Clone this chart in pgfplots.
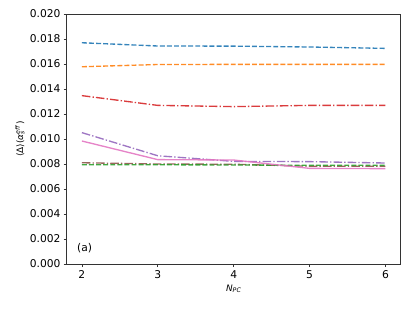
\documentclass[border=0pt]{standalone}
\usepackage{fontspec}
\setmainfont{DejaVu Sans}
\usepackage{pgfplots}
\pgfplotsset{compat=1.18}
\definecolor{mblue}{HTML}{1F77B4}
\definecolor{morange}{HTML}{FF7F0E}
\definecolor{mgreen}{HTML}{2CA02C}
\definecolor{mred}{HTML}{D62728}
\definecolor{mpurple}{HTML}{9467BD}
\definecolor{mbrown}{HTML}{8C564B}
\definecolor{mpink}{HTML}{E377C2}
\begin{document}
\begin{tikzpicture}
\useasboundingbox (-74.8pt,-49.6pt) rectangle (386pt,296pt);
\begin{axis}[
  at={(0,0)}, anchor=south west,
  scale only axis, width=374.4pt, height=280.3pt,
  xmin=1.8, xmax=6.2, ymin=0, ymax=0.020,
  xtick={2,3,4,5,6},
  ytick={0,0.002,0.004,0.006,0.008,0.010,0.012,0.014,0.016,0.018,0.020},
  yticklabel style={/pgf/number format/.cd, fixed, fixed zerofill, precision=3, assume math mode=true},
  xticklabel style={/pgf/number format/assume math mode=true},
  scaled y ticks=false,
  tick align=outside, tick pos=left,
  major tick length=3.5pt,
  every tick/.style={black!80, line width=0.8pt},
  axis line style={black!80, line width=0.8pt},
  tick label style={font=\fontsize{12}{14}\selectfont},
  label style={font=\fontsize{10}{12}\selectfont},
  xlabel={\textit{N}\textsubscript{\textit{PC}}},
  ylabel={⟨Δ⟩(\textit{α}\rlap{\textsubscript{\textit{s}}}\textsuperscript{\textit{eff}})},
  ylabel style={yshift=-1pt},
  every axis plot/.append style={line width=1.5pt, opacity=0.9},
]
\addplot[mblue, dash pattern=on 5.55pt off 2.4pt] coordinates {(2,0.01770) (3,0.01744) (4,0.01743) (5,0.01736) (6,0.01725)};
\addplot[morange, dash pattern=on 5.55pt off 2.4pt] coordinates {(2,0.01578) (3,0.01596) (4,0.01597) (5,0.01597) (6,0.01597)};
\addplot[mred, dash pattern=on 9.6pt off 2.4pt on 1.5pt off 2.4pt] coordinates {(2,0.01347) (3,0.01269) (4,0.01259) (5,0.01269) (6,0.01269)};
\addplot[mbrown, dash pattern=on 9.6pt off 2.4pt on 1.5pt off 2.4pt] coordinates {(2,0.00810) (3,0.00800) (4,0.00798) (5,0.00782) (6,0.00782)};
\addplot[mgreen, dash pattern=on 5.55pt off 2.4pt] coordinates {(2,0.00794) (3,0.00794) (4,0.00792) (5,0.00790) (6,0.00790)};
\addplot[mpurple, dash pattern=on 9.6pt off 2.4pt on 1.5pt off 2.4pt] coordinates {(2,0.01051) (3,0.00866) (4,0.00821) (5,0.00819) (6,0.00808)};
\addplot[mpink] coordinates {(2,0.00984) (3,0.00835) (4,0.00832) (5,0.00765) (6,0.00763)};
\node[anchor=west, font=\fontsize{12}{14}\selectfont] at (rel axis cs:0.022,0.064) {(a)};
\end{axis}
\end{tikzpicture}
\end{document}
